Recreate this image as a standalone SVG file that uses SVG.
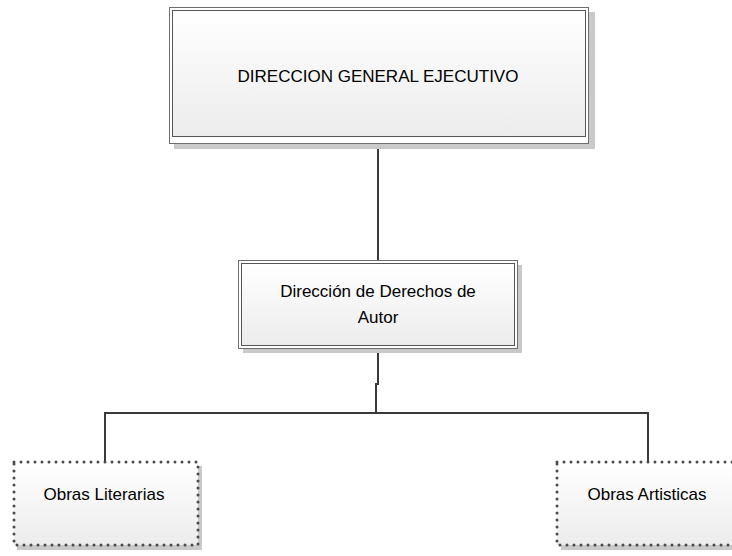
<svg xmlns="http://www.w3.org/2000/svg" width="732" height="556" viewBox="0 0 732 556">
<defs>
<linearGradient id="g" x1="0" y1="0" x2="0" y2="1">
<stop offset="0" stop-color="#ffffff"/>
<stop offset="1" stop-color="#ececec"/>
</linearGradient>
<style>
.shadow{fill:#c9c9c9;}
.outer{fill:#ffffff;stroke:#6e6e6e;stroke-width:1;}
.inner{fill:url(#g);stroke:#555555;stroke-width:1;}
.dot{fill:url(#g);stroke:#4a4a4a;stroke-width:3;stroke-dasharray:0 7;stroke-linecap:round;}
.t{font-family:"Liberation Sans",Arial,sans-serif;font-size:17px;fill:#000;text-anchor:middle;}
.c{fill:none;stroke:#3a3a3a;stroke-width:2;}
</style>
</defs>
<rect width="732" height="556" fill="#ffffff"/>
<g id="connectors">
<path class="c" d="M378 143 V260"/>
<path class="c" d="M378 348 V384 H376 V413"/>
<path class="c" d="M105 462 V413 H648 V462"/>
</g>
<g id="node-direccion-general">
<rect class="shadow" x="174" y="12" width="421" height="137"/>
<rect class="outer" x="169.5" y="7.5" width="419" height="136"/>
<rect class="inner" x="172.5" y="10.5" width="413" height="126"/>
<text class="t" x="378" y="82">DIRECCION GENERAL EJECUTIVO</text>
</g>
<g id="node-derechos-autor">
<rect class="shadow" x="243" y="265" width="279" height="88"/>
<rect class="outer" x="238.5" y="260.5" width="279" height="88"/>
<rect class="inner" x="241.5" y="263.5" width="273" height="82"/>
<text class="t" x="378" y="297">Dirección de Derechos de</text>
<text class="t" x="378" y="323">Autor</text>
</g>
<g id="node-obras-literarias">
<rect class="shadow" x="17" y="466" width="185" height="84"/>
<rect class="dot" x="14" y="462" width="184" height="83"/>
<text class="t" x="104" y="500">Obras Literarias</text>
</g>
<g id="node-obras-artisticas">
<rect class="shadow" x="561" y="466" width="175" height="84"/>
<rect class="dot" x="557" y="462" width="184" height="83"/>
<text class="t" x="647" y="500">Obras Artisticas</text>
</g>
</svg>
